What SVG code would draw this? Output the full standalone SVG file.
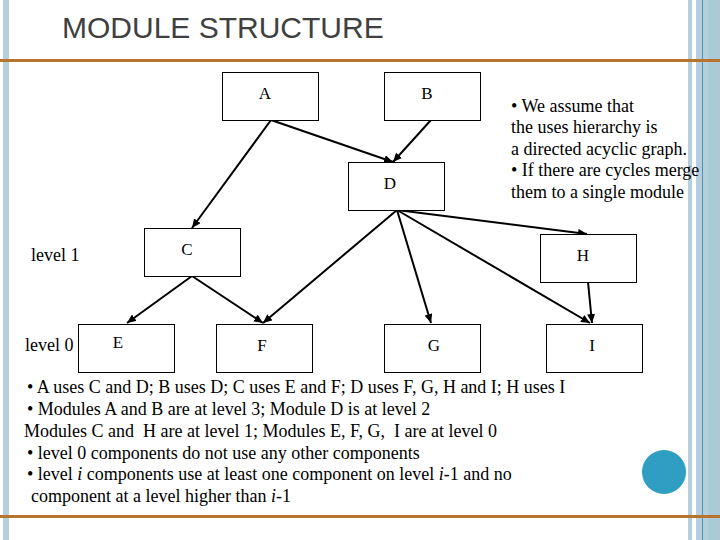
<svg xmlns="http://www.w3.org/2000/svg" width="720" height="540" viewBox="0 0 720 540">
<style>
.box{fill:#fff;stroke:#000;stroke-width:1}
.lbl{font-family:"Liberation Serif","Times New Roman",serif;font-size:17px;fill:#000;text-anchor:middle}
.txt{font-family:"Liberation Serif","Times New Roman",serif;font-size:18px;fill:#000}
.edge{stroke:#000;stroke-width:2;fill:none;marker-end:url(#ah)}
</style>
<defs>
<marker id="ah" markerUnits="userSpaceOnUse" markerWidth="10" markerHeight="8" refX="9" refY="4" orient="auto">
<path d="M0,0 L9,4 L0,8 Z" fill="#000"/>
</marker>
</defs>
<rect x="0" y="0" width="720" height="540" fill="#fff"/>
<g id="frame">
<rect x="3" y="0" width="6" height="540" fill="#b5d0dc"/>
<rect x="688" y="0" width="4" height="540" fill="#b5d0dc"/>
<rect x="696" y="0" width="24" height="540" fill="#b5d0dc"/>
<rect x="708" y="0" width="12" height="540" fill="#abcad8"/>
<line x1="702.5" y1="0" x2="702.5" y2="540" stroke="#4f93b2" stroke-width="1"/>
<rect x="0" y="59" width="720" height="3" fill="#b8732d"/>
<rect x="0" y="515" width="720" height="3" fill="#b8732d"/>
<circle cx="664" cy="472" r="22" fill="#2f9ec2"/>
</g>
<text x="62" y="38" font-family="Liberation Sans, Arial, sans-serif" font-size="30" fill="#404040">MODULE STRUCTURE</text>
<g id="connectors">
<path class="edge" d="M271,120 L192,228"/>
<path class="edge" d="M271,120 L393,162"/>
<path class="edge" d="M431,120 L393,162"/>
<path class="edge" d="M192,276 L127,323"/>
<path class="edge" d="M192,276 L263,323"/>
<path class="edge" d="M397,210 L263,323"/>
<path class="edge" d="M397,210 L431,323"/>
<path class="edge" d="M397,210 L587,234"/>
<path class="edge" d="M397,210 L590,323"/>
<path class="edge" d="M588,282 L592,323"/>
</g>
<g id="node-A"><rect class="box" x="222.5" y="72.5" width="96" height="48"/><text class="lbl" x="265" y="99">A</text></g>
<g id="node-B"><rect class="box" x="384.5" y="72.5" width="96" height="48"/><text class="lbl" x="427" y="99">B</text></g>
<g id="node-D"><rect class="box" x="348.5" y="162.5" width="96" height="48"/><text class="lbl" x="390" y="189">D</text></g>
<g id="node-C"><rect class="box" x="144.5" y="228.5" width="96" height="48"/><text class="lbl" x="187" y="255">C</text></g>
<g id="node-H"><rect class="box" x="540.5" y="234.5" width="96" height="48"/><text class="lbl" x="583" y="261">H</text></g>
<g id="node-E"><rect class="box" x="78.5" y="324.5" width="96" height="48"/><text class="lbl" x="118" y="348">E</text></g>
<g id="node-F"><rect class="box" x="216.5" y="324.5" width="96" height="48"/><text class="lbl" x="262" y="351">F</text></g>
<g id="node-G"><rect class="box" x="384.5" y="324.5" width="96" height="48"/><text class="lbl" x="434" y="351">G</text></g>
<g id="node-I"><rect class="box" x="546.5" y="324.5" width="96" height="48"/><text class="lbl" x="592" y="351">I</text></g>
<g id="levels">
<text class="txt" x="31" y="261">level 1</text>
<text class="txt" x="25" y="351">level 0</text>
</g>
<g id="note">
<text class="txt" x="511" y="112">• We assume that</text>
<text class="txt" x="511" y="133">the uses hierarchy is</text>
<text class="txt" x="511" y="155">a directed acyclic graph.</text>
<text class="txt" x="511" y="176">• If there are cycles merge</text>
<text class="txt" x="511" y="198">them to a single module</text>
</g>
<g id="summary">
<text class="txt" x="27" y="393">• A uses C and D; B uses D; C uses E and F; D uses F, G, H and I; H uses I</text>
<text class="txt" x="27" y="415">• Modules A and B are at level 3; Module D is at level 2</text>
<text class="txt" x="24" y="437" xml:space="preserve">Modules C and  H are at level 1; Modules E, F, G,  I are at level 0</text>
<text class="txt" x="27" y="459">• level 0 components do not use any other components</text>
<text class="txt" x="27" y="480">• level <tspan font-style="italic">i</tspan> components use at least one component on level <tspan font-style="italic">i</tspan>-1 and no</text>
<text class="txt" x="31" y="502">component at a level higher than <tspan font-style="italic">i</tspan>-1</text>
</g>
</svg>
